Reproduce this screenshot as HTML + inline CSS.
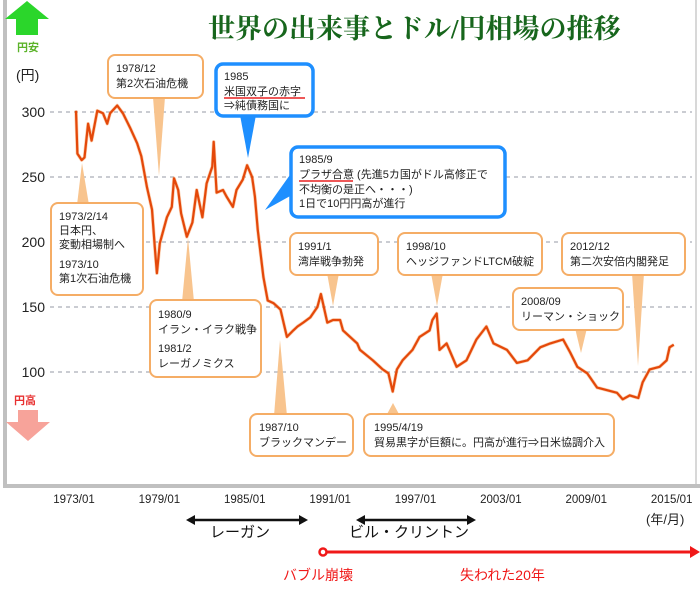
<!DOCTYPE html>
<html><head><meta charset="utf-8">
<style>
html,body{margin:0;padding:0;background:#fff;}
svg{display:block;font-family:"Liberation Sans","Noto Sans CJK JP",sans-serif;}
.cb{fill:#fff;stroke:#f5ad66;stroke-width:2;}
.bb{fill:#fff;stroke:#1e8fff;stroke-width:3.5;}
.pt{fill:#f8c48e;}
.pb{fill:#1e8fff;}
.ct{font-size:11px;fill:#222;}
.yl{font-size:14px;fill:#222;}
.xl{font-size:11.5px;fill:#222;}
</style></head>
<body>
<svg id="chart" width="700" height="594" viewBox="0 0 700 594">
  <rect x="5" y="0" width="691" height="486" fill="#fff" stroke="none"/>
  <line x1="5" y1="0" x2="5" y2="488" stroke="#c0c0c0" stroke-width="4"/>
  <line x1="696" y1="0" x2="696" y2="488" stroke="#d8d8d8" stroke-width="2"/>
  <line x1="3" y1="486" x2="700" y2="486" stroke="#c0c0c0" stroke-width="4"/>
  <g id="grid"></g>
  <g id="yticks"></g>
  <g id="xticks"></g>

  <text x="208" y="38" font-family="'Liberation Serif','Noto Serif CJK SC',serif" font-weight="bold" font-size="27" fill="#17661c">世界の出来事とドル/円相場の推移</text>

  <polygon points="27,1 49,19 38,19 38,35 16,35 16,19 5,19" fill="#2bd62b"/>
  <text x="17" y="51" font-size="11" font-weight="bold" fill="#5cb32a">円安</text>
  <text x="16" y="80" font-size="14" fill="#222">(円)</text>
  <text x="14" y="404" font-size="11" font-weight="bold" fill="#e83030">円高</text>
  <polygon points="18,410 38,410 38,422 50,422 28,441 6,422 18,422" fill="#f7a39a"/>

  <g>
    <polygon class="pt" points="153,97 165,97 159,176"/>
    <rect class="cb" x="108" y="55" width="95" height="43" rx="7"/>
    <text class="ct" x="116" y="72">1978/12</text><text class="ct" x="116" y="87">第2次石油危機</text>
  </g>
  <g>
    <polygon class="pb" points="240,115 256,115 248,158"/>
    <rect class="bb" x="216" y="64" width="97" height="52" rx="7"/>
    <text class="ct" x="224" y="80">1985</text><text class="ct" x="224" y="95">米国双子の赤字</text>
    <line x1="224" y1="98" x2="305" y2="98" stroke="#e82020" stroke-width="1.5"/>
    <text class="ct" x="224" y="109">⇒純債務国に</text>
  </g>
  <g>
    <polygon class="pb" points="292,172 292,195 265,210"/>
    <rect class="bb" x="291" y="147" width="214" height="70" rx="7"/>
    <text class="ct" x="299" y="163">1985/9</text><text class="ct" x="299" y="178">プラザ合意 (先進5カ国がドル高修正で</text>
    <line x1="299" y1="181" x2="353" y2="181" stroke="#e82020" stroke-width="1.5"/>
    <text class="ct" x="299" y="193">不均衡の是正へ・・・)</text><text class="ct" x="299" y="207">1日で10円円高が進行</text>
  </g>
  <g>
    <polygon class="pt" points="77,205 89,205 82,163"/>
    <rect class="cb" x="51" y="203" width="92" height="92" rx="7"/>
    <text class="ct" x="59" y="220">1973/2/14</text><text class="ct" x="59" y="234">日本円、</text>
    <text class="ct" x="59" y="248">変動相場制へ</text><text class="ct" x="59" y="268">1973/10</text><text class="ct" x="59" y="282">第1次石油危機</text>
  </g>
  <g>
    <polygon class="pt" points="327,273 339,273 333,306"/>
    <rect class="cb" x="290" y="233" width="88" height="42" rx="7"/>
    <text class="ct" x="298" y="250">1991/1</text><text class="ct" x="298" y="265">湾岸戦争勃発</text>
  </g>
  <g>
    <polygon class="pt" points="431,273 443,273 437,306"/>
    <rect class="cb" x="398" y="233" width="144" height="42" rx="7"/>
    <text class="ct" x="406" y="250">1998/10</text><text class="ct" x="406" y="265">ヘッジファンドLTCM破綻</text>
  </g>
  <g>
    <polygon class="pt" points="632,273 644,273 638,366"/>
    <rect class="cb" x="562" y="233" width="123" height="42" rx="7"/>
    <text class="ct" x="570" y="250">2012/12</text><text class="ct" x="570" y="265">第二次安倍内閣発足</text>
  </g>
  <g>
    <polygon class="pt" points="575,328 587,328 581,353"/>
    <rect class="cb" x="513" y="288" width="110" height="42" rx="7"/>
    <text class="ct" x="521" y="305">2008/09</text><text class="ct" x="521" y="320">リーマン・ショック</text>
  </g>
  <g>
    <polygon class="pt" points="182,302 194,302 188,238"/>
    <rect class="cb" x="150" y="300" width="111" height="77" rx="7"/>
    <text class="ct" x="158" y="318">1980/9</text><text class="ct" x="158" y="333">イラン・イラク戦争</text>
    <text class="ct" x="158" y="352">1981/2</text><text class="ct" x="158" y="367">レーガノミクス</text>
  </g>
  <g>
    <polygon class="pt" points="274,416 287,416 280,340"/>
    <rect class="cb" x="250" y="414" width="103" height="42" rx="7"/>
    <text class="ct" x="259" y="431">1987/10</text><text class="ct" x="259" y="446">ブラックマンデー</text>
  </g>
  <g>
    <polygon class="pt" points="386,416 400,416 393,403"/>
    <rect class="cb" x="364" y="414" width="250" height="42" rx="7"/>
    <text class="ct" x="374" y="431">1995/4/19</text><text class="ct" x="374" y="446">貿易黒字が巨額に。円高が進行⇒日米協調介入</text>
  </g>

  <path id="line-shadow" fill="none" stroke="#f7a060" stroke-width="3.5" stroke-linejoin="round" opacity="0.5"/>
  <path id="line" fill="none" stroke="#e4480a" stroke-width="2.2" stroke-linejoin="round"/>

  <text x="646" y="524" font-size="13" fill="#222">(年/月)</text>
  <g>
    <line x1="192" y1="520" x2="302" y2="520" stroke="#111" stroke-width="2.5"/>
    <polygon points="186,520 195,515 195,525" fill="#111"/><polygon points="308,520 299,515 299,525" fill="#111"/>
    <text x="210" y="537" font-size="15" fill="#111">レーガン</text>
  </g>
  <g>
    <line x1="362" y1="520" x2="470" y2="520" stroke="#111" stroke-width="2.5"/>
    <polygon points="356,520 365,515 365,525" fill="#111"/><polygon points="476,520 467,515 467,525" fill="#111"/>
    <text x="349" y="537" font-size="15" fill="#111">ビル・クリントン</text>
  </g>
  <g>
    <circle cx="323" cy="552" r="3.5" fill="#fff" stroke="#f01818" stroke-width="2.5"/>
    <line x1="327" y1="552" x2="692" y2="552" stroke="#f01818" stroke-width="3"/>
    <polygon points="700,552 690,546 690,558" fill="#f01818"/>
    <text x="283" y="580" font-size="14" fill="#f01818">バブル崩壊</text>
    <text x="460" y="580" font-size="14" fill="#f01818">失われた20年</text>
  </g>
</svg>
<script>
const years=[1973.0,1973.1,1973.4,1973.6,1973.85,1974.1,1974.5,1974.9,1975.2,1975.4,1975.9,1976.3,1976.8,1977.3,1977.6,1978.0,1978.35,1978.55,1978.7,1978.9,1979.4,1979.75,1979.9,1980.2,1980.4,1980.8,1981.2,1981.5,1981.9,1982.2,1982.6,1982.7,1982.9,1983.35,1983.6,1984.05,1984.3,1984.75,1985.05,1985.4,1985.6,1985.8,1986.2,1986.5,1986.9,1987.4,1987.85,1988.3,1988.6,1989.0,1989.5,1990.0,1990.25,1990.7,1991.1,1991.6,1991.8,1992.3,1992.8,1993.0,1993.9,1994.6,1995.0,1995.3,1995.6,1996.0,1996.7,1997.2,1997.9,1998.1,1998.4,1998.6,1999.1,1999.8,2000.5,2001.2,2001.9,2002.4,2003.35,2004.05,2004.8,2005.7,2006.4,2007.3,2007.8,2008.3,2009.0,2009.7,2010.4,2011.1,2011.5,2012.0,2012.6,2012.9,2013.4,2014.1,2014.6,2014.8,2015.1];
const rates=[301,268,263,265,291,278,301,299,291,299,305,299,288,276,266,242,225,196,176,199,219,227,249,240,222,204,215,240,219,245,258,277,238,240,235,227,240,248,259,250,235,209,173,155,153,148,127,132,135,138,142,150,160,138,140,140,132,127,122,117,109,102,99,85,102,109,117,127,132,140,145,117,122,104,109,125,135,122,117,107,109,119,122,125,115,104,99,88,86,84,79,82,80,92,102,104,109,119,121];
const yTicks=[300,250,200,150,100];
const xTickLabels=["1973/01","1979/01","1985/01","1991/01","1997/01","2003/01","2009/01","2015/01"];
const xTickYears=[1973,1979,1985,1991,1997,2003,2009,2015];

const NS="http://www.w3.org/2000/svg";
function yScale(v){return 112+(300-v)*1.3;}
function xScale(yr){return 76+(yr-1973)*14.2;}
function xLabelPos(yr){return 74+(yr-1973)*14.23;}

const grid=document.getElementById('grid'), yt=document.getElementById('yticks'), xt=document.getElementById('xticks');
yTicks.forEach(v=>{
  const l=document.createElementNS(NS,'line');
  l.setAttribute('x1',50);l.setAttribute('x2',692);
  l.setAttribute('y1',yScale(v));l.setAttribute('y2',yScale(v));
  l.setAttribute('stroke','#b8bcc4');l.setAttribute('stroke-width','1.5');l.setAttribute('stroke-dasharray','4,4');
  
  
  grid.appendChild(l);
  const t=document.createElementNS(NS,'text');
  t.setAttribute('x',45);t.setAttribute('y',yScale(v)+5);t.setAttribute('text-anchor','end');
  t.setAttribute('class','yl');t.textContent=v;
  
  
  yt.appendChild(t);
});
xTickYears.forEach((yr,i)=>{
  const t=document.createElementNS(NS,'text');
  t.setAttribute('x',xLabelPos(yr));t.setAttribute('y',503);t.setAttribute('text-anchor','middle');
  t.setAttribute('class','xl');t.textContent=xTickLabels[i];
  
  
  xt.appendChild(t);
});
let d='';
years.forEach((yr,i)=>{d+=(i?'L':'M')+xScale(yr).toFixed(1)+','+yScale(rates[i]).toFixed(1);});
document.getElementById('line').setAttribute('d',d);
document.getElementById('line-shadow').setAttribute('d',d);
</script>
</body></html>
